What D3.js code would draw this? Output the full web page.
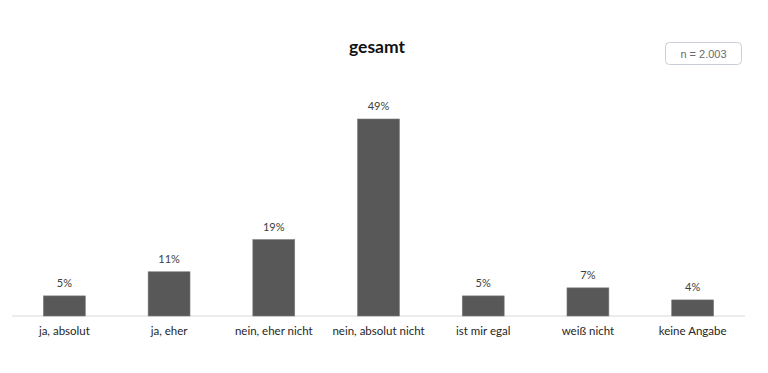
<!DOCTYPE html>
<html>
<head>
<meta charset="utf-8">
<script src="https://cdn.jsdelivr.net/npm/d3@7"></script>
<style>
  body { margin: 0; background: #fff; }
  svg { display: block; }
</style>
</head>
<body>
<div id="chart"></div>
<script>
// Data

const categories = ['ja, absolut', 'ja, eher', 'nein, eher nicht', 'nein, absolut nicht', 'ist mir egal', 'weiß nicht', 'keine Angabe'];
const values = [5, 11, 19, 49, 5, 7, 4];
const valueLabels = ['5%', '11%', '19%', '49%', '5%', '7%', '4%'];

const width = 768;
const height = 373;

// plot area
const margin = { top: 119, right: 23, bottom: 57, left: 12 };
const plotW = width - margin.left - margin.right;
const plotH = height - margin.top - margin.bottom;

const svg = d3.select('#chart').append('svg')
  .attr('width', width)
  .attr('height', height);

const chartGroup = svg.append('g')
  .attr('transform', `translate(${margin.left}, ${margin.top})`);

const xScale = d3.scaleBand()
  .domain(categories)
  .range([0, plotW])
  .paddingInner(0.6)
  .paddingOuter(0.3);

const yScale = d3.scaleLinear()
  .domain([0, d3.max(values)])
  .range([plotH, 0]);

// baseline
chartGroup.append('line')
  .attr('x1', 0).attr('x2', plotW)
  .attr('y1', plotH).attr('y2', plotH)
  .attr('stroke', '#d9d9d9')
  .attr('stroke-width', 1);

// bars
chartGroup.append('g')
  .selectAll('rect')
  .data(values)
  .enter()
  .append('rect')
  .attr('x', (d, i) => xScale(categories[i]))
  .attr('y', d => yScale(d))
  .attr('width', xScale.bandwidth())
  .attr('height', d => plotH - yScale(d))
  .attr('fill', '#585858')
  .attr('stroke', '#7a7a7a')
  .attr('stroke-width', 0.6);

// value labels
chartGroup.append('g')
  .selectAll('text')
  .data(values)
  .enter()
  .append('text')
  .attr('x', (d, i) => xScale(categories[i]) + xScale.bandwidth() / 2)
  .attr('y', d => yScale(d) - 9)
  .attr('text-anchor', 'middle')
  .attr('font-family', 'Lato, "Open Sans", sans-serif')
  .attr('font-size', 11)
  .attr('fill', '#404040')
  .text((d, i) => valueLabels[i]);

// category axis (no ticks, no domain line)
const xAxis = d3.axisBottom(xScale).tickSize(0).tickPadding(11);
const xAxisGroup = chartGroup.append('g')
  .attr('transform', `translate(0, ${plotH})`)
  .call(xAxis);
xAxisGroup.select('.domain').remove();
xAxisGroup.selectAll('text')
  .attr('font-family', 'Lato, "Open Sans", sans-serif')
  .attr('font-size', 11.5)
  .attr('fill', '#262626');

// title
svg.append('text')
  .attr('x', 377)
  .attr('y', 53)
  .attr('text-anchor', 'middle')
  .attr('font-family', 'Lato, "Open Sans", sans-serif')
  .attr('font-weight', 'bold')
  .attr('font-size', 17.5)
  .attr('fill', '#111')
  .text('gesamt');

// sample size box
svg.append('rect')
  .attr('x', 665.5).attr('y', 42.5)
  .attr('width', 76).attr('height', 22)
  .attr('rx', 4)
  .attr('fill', '#fff')
  .attr('stroke', '#c9ced8')
  .attr('stroke-width', 1);

svg.append('text')
  .attr('x', 703.5)
  .attr('y', 57.5)
  .attr('text-anchor', 'middle')
  .attr('font-family', '"Liberation Sans", Arial, sans-serif')
  .attr('font-size', 11)
  .attr('fill', '#6b6b6b')
  .text('n = 2.003');
</script>
</body>
</html>
